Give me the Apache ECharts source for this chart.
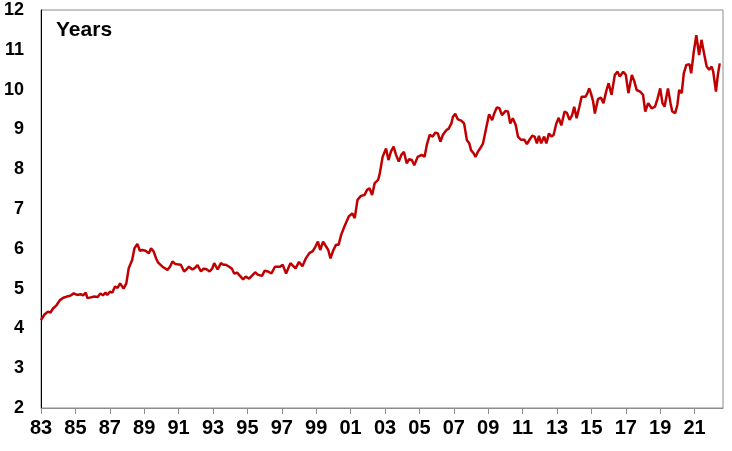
<!DOCTYPE html>
<html>
<head>
<meta charset="utf-8">
<script src="https://cdn.jsdelivr.net/npm/echarts@6/dist/echarts.min.js"></script>
<style>
html,body{margin:0;padding:0;background:#fff;}
#chart{width:732px;height:451px;}
</style>
</head>
<body>
<div id="chart"></div>
<script>
// Time (decimal year) and value (years)
const times = [
1983.0,1983.2,1983.4,1983.55,1983.7,1983.9,1984.1,1984.3,1984.5,1984.7,1984.9,1985.1,1985.3,1985.45,1985.6,1985.7,1985.9,
1986.1,1986.3,1986.45,1986.6,1986.75,1986.85,1987.0,1987.15,1987.3,1987.45,1987.6,1987.8,1987.96,1988.1,1988.3,1988.43,
1988.6,1988.75,1988.9,1989.07,1989.27,1989.4,1989.55,1989.7,1989.8,1990.06,1990.35,1990.5,1990.64,1990.8,1990.93,1991.13,
1991.32,1991.45,1991.6,1991.8,1991.95,1992.1,1992.3,1992.45,1992.6,1992.8,1992.95,1993.07,1993.27,1993.46,1993.6,1993.75,
1993.94,1994.1,1994.23,1994.4,1994.5,1994.75,1994.9,1995.0,1995.1,1995.2,1995.45,1995.6,1995.7,1995.85,1996.0,1996.2,
1996.4,1996.6,1996.9,1997.05,1997.25,1997.5,1997.6,1997.8,1998.0,1998.2,1998.4,1998.6,1998.8,1998.95,1999.1,1999.23,
1999.4,1999.5,1999.7,1999.83,2000.0,2000.15,2000.3,2000.45,2000.64,2000.9,2001.1,2001.24,2001.4,2001.6,2001.8,2001.96,
2002.1,2002.25,2002.4,2002.6,2002.7,2002.86,2003.06,2003.2,2003.35,2003.5,2003.64,2003.8,2003.95,2004.1,2004.26,2004.4,
2004.56,2004.7,2004.9,2005.14,2005.3,2005.43,2005.6,2005.77,2005.93,2006.07,2006.22,2006.36,2006.56,2006.7,2006.86,2006.95,
2007.08,2007.24,2007.43,2007.6,2007.76,2007.9,2008.0,2008.15,2008.26,2008.4,2008.6,2008.7,2008.78,2008.9,2009.05,2009.23,
2009.35,2009.5,2009.65,2009.8,2010.0,2010.15,2010.28,2010.43,2010.6,2010.73,2010.9,2011.1,2011.25,2011.4,2011.56,2011.7,
2011.83,2011.95,2012.08,2012.25,2012.38,2012.53,2012.67,2012.8,2012.96,2013.1,2013.25,2013.44,2013.58,2013.73,2013.88,2014.0,
2014.14,2014.3,2014.43,2014.65,2014.77,2014.87,2014.97,2015.1,2015.2,2015.38,2015.55,2015.7,2015.88,2016.0,2016.17,2016.36,
2016.52,2016.65,2016.85,2017.0,2017.15,2017.35,2017.5,2017.63,2017.83,2018.0,2018.13,2018.3,2018.5,2018.7,2018.85,2019.0,
2019.13,2019.25,2019.45,2019.6,2019.7,2019.87,2020.0,2020.1,2020.25,2020.37,2020.52,2020.7,2020.8,2020.95,2021.1,2021.26,
2021.4,2021.53,2021.7,2021.85,2021.99,2022.08,2022.24,2022.35,2022.46
];
const values = [
4.21,4.35,4.42,4.40,4.50,4.58,4.71,4.77,4.80,4.82,4.88,4.84,4.86,4.83,4.90,4.76,4.78,
4.80,4.79,4.88,4.83,4.90,4.84,4.92,4.90,5.05,5.02,5.13,5.00,5.13,5.51,5.72,6.01,
6.12,5.95,5.97,5.95,5.89,6.01,5.93,5.75,5.66,5.55,5.47,5.55,5.68,5.62,5.61,5.60,
5.43,5.48,5.55,5.48,5.52,5.59,5.43,5.50,5.49,5.43,5.50,5.64,5.48,5.64,5.60,5.60,
5.55,5.50,5.38,5.40,5.38,5.23,5.30,5.34,5.25,5.30,5.41,5.35,5.37,5.32,5.45,5.43,
5.38,5.55,5.55,5.60,5.38,5.64,5.66,5.51,5.67,5.56,5.76,5.89,5.94,6.05,6.18,5.97,
6.18,6.22,5.97,5.76,5.97,6.10,6.10,6.35,6.56,6.82,6.89,6.77,7.23,7.33,7.35,7.48,
7.52,7.35,7.65,7.73,7.90,8.31,8.52,8.23,8.45,8.57,8.36,8.19,8.36,8.44,8.15,8.25,
8.23,8.10,8.31,8.36,8.31,8.61,8.86,8.82,8.92,8.90,8.69,8.86,8.98,9.02,9.15,9.32,
9.39,9.25,9.22,9.15,8.73,8.65,8.48,8.40,8.31,8.44,8.57,8.65,8.82,9.07,9.38,9.23,
9.40,9.55,9.53,9.36,9.46,9.45,9.15,9.28,9.11,8.82,8.74,8.74,8.63,8.74,8.84,8.82,
8.65,8.84,8.65,8.82,8.65,8.90,8.82,8.86,9.15,9.29,9.10,9.45,9.41,9.24,9.36,9.57,
9.28,9.57,9.82,9.82,9.91,10.03,9.91,9.70,9.40,9.76,9.80,9.66,9.99,10.16,9.87,10.37,
10.45,10.33,10.45,10.37,9.91,10.37,10.20,9.99,9.95,9.87,9.45,9.66,9.53,9.57,9.78,10.03,
9.66,9.57,10.03,9.66,9.45,9.41,9.62,9.99,9.91,10.41,10.62,10.64,10.41,10.95,11.37,10.87,
11.25,10.95,10.58,10.50,10.58,10.45,9.95,10.37,10.66
];
const xTickYears = [1983,1985,1987,1989,1991,1993,1995,1997,1999,2001,2003,2005,2007,2009,2011,2013,2015,2017,2019,2021];
const xTickLabels = ['83','85','87','89','91','93','95','97','99','01','03','05','07','09','11','13','15','17','19','21'];
const yTicks = [2,3,4,5,6,7,8,9,10,11,12];
const unitLabel = 'Years';

const chart = echarts.init(document.getElementById('chart'), null, {renderer:'canvas'});
const font = 'Arial, "Liberation Sans", sans-serif';
chart.setOption({
  animation:false,
  backgroundColor:'#fff',
  grid:{left:41,right:9,top:10,bottom:43,show:true,borderColor:'#8c8c8c',borderWidth:1,containLabel:false},
  title:{text:unitLabel,left:51,top:15,textStyle:{fontFamily:font,fontWeight:'bold',fontSize:21,color:'#000'}},
  xAxis:{
    type:'value',min:1983,max:2022.65,interval:2,
    axisLine:{show:true,onZero:false,lineStyle:{color:'#8c8c8c',width:1}},
    axisTick:{show:true,length:6,inside:false,lineStyle:{color:'#8c8c8c'}},
    splitLine:{show:false},
    axisLabel:{
      margin:10,color:'#000',fontFamily:font,fontWeight:'bold',fontSize:20,showMaxLabel:false,
      formatter:function(v){const i=xTickYears.indexOf(Math.round(v)); return (Math.abs(v-Math.round(v))<1e-6 && i>=0)?xTickLabels[i]:'';}
    }
  },
  yAxis:{
    type:'value',min:yTicks[0],max:yTicks[yTicks.length-1],interval:1,
    axisLine:{show:true,onZero:false,lineStyle:{color:'#000',width:1}},
    axisTick:{show:false},
    splitLine:{show:false},
    axisLabel:{margin:17,color:'#000',fontFamily:font,fontWeight:'bold',fontSize:18}
  },
  series:[{
    type:'line',
    data:times.map((t,i)=>[t,values[i]]),
    showSymbol:false,symbol:'none',
    lineStyle:{color:'#C00000',width:2.5},
    smooth:false
  }]
});
</script>
</body>
</html>
